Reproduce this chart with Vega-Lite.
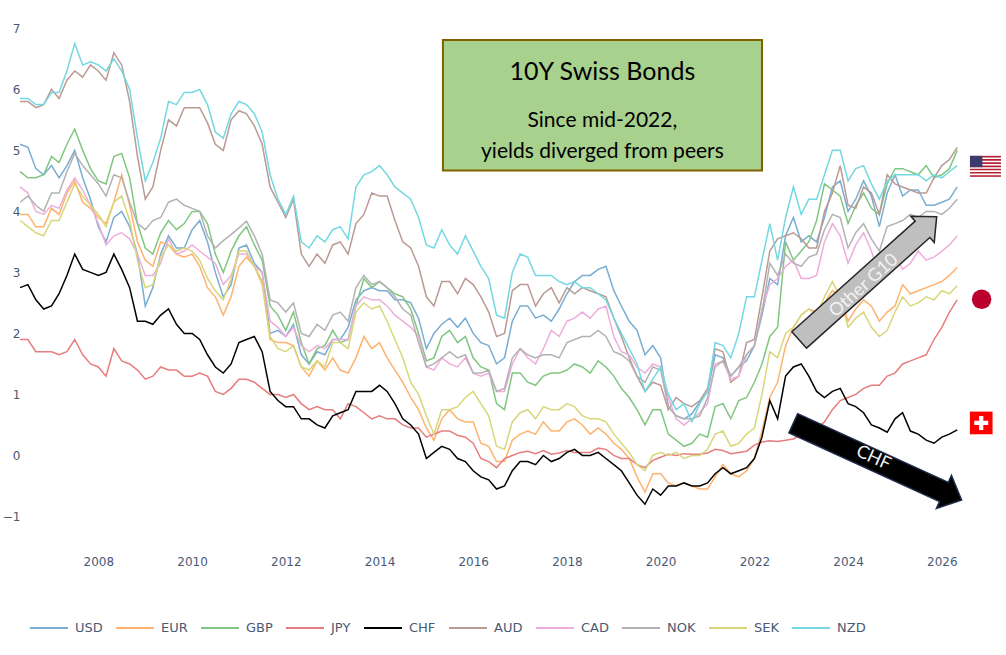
{
  "$schema": "https://vega.github.io/schema/vega-lite/v6.json",
  "width": 936,
  "height": 537,
  "autosize": {"type": "none"},
  "padding": {"left": 22, "top": 10, "right": 48, "bottom": 108},
  "background": "white",
  "config": {"view": {"stroke": null}},
  "resolve": {"scale": {"x": "shared", "y": "shared"}},
  "layer": [
    {
      "data": {"values": [
        {"d":"2006-05","USD":5.1,"EUR":3.95,"GBP":4.65,"JPY":1.9,"CHF":2.75,"AUD":5.8,"CAD":4.4,"NOK":4.15,"SEK":3.85,"NZD":5.85},
        {"d":"2006-07","USD":5.05,"EUR":3.95,"GBP":4.55,"JPY":1.9,"CHF":2.8,"AUD":5.8,"CAD":4.3,"NOK":4.25,"SEK":3.75,"NZD":5.85},
        {"d":"2006-09","USD":4.7,"EUR":3.75,"GBP":4.55,"JPY":1.7,"CHF":2.55,"AUD":5.7,"CAD":4.0,"NOK":4.1,"SEK":3.65,"NZD":5.75},
        {"d":"2006-11","USD":4.6,"EUR":3.75,"GBP":4.6,"JPY":1.7,"CHF":2.4,"AUD":5.75,"CAD":3.95,"NOK":4.0,"SEK":3.6,"NZD":5.75},
        {"d":"2007-01","USD":4.75,"EUR":4.05,"GBP":4.9,"JPY":1.7,"CHF":2.45,"AUD":6.0,"CAD":4.1,"NOK":4.3,"SEK":3.85,"NZD":5.95},
        {"d":"2007-03","USD":4.55,"EUR":3.95,"GBP":4.8,"JPY":1.65,"CHF":2.65,"AUD":5.85,"CAD":4.05,"NOK":4.3,"SEK":3.85,"NZD":5.95},
        {"d":"2007-05","USD":4.75,"EUR":4.3,"GBP":5.1,"JPY":1.7,"CHF":2.95,"AUD":6.15,"CAD":4.35,"NOK":4.65,"SEK":4.15,"NZD":6.3},
        {"d":"2007-07","USD":5.0,"EUR":4.5,"GBP":5.35,"JPY":1.9,"CHF":3.3,"AUD":6.3,"CAD":4.55,"NOK":4.95,"SEK":4.45,"NZD":6.75},
        {"d":"2007-09","USD":4.55,"EUR":4.15,"GBP":5.0,"JPY":1.65,"CHF":3.05,"AUD":6.2,"CAD":4.35,"NOK":4.75,"SEK":4.25,"NZD":6.4},
        {"d":"2007-11","USD":4.2,"EUR":4.05,"GBP":4.7,"JPY":1.5,"CHF":3.0,"AUD":6.4,"CAD":4.1,"NOK":4.6,"SEK":4.1,"NZD":6.45},
        {"d":"2008-01","USD":3.75,"EUR":3.9,"GBP":4.5,"JPY":1.45,"CHF":2.95,"AUD":6.3,"CAD":3.8,"NOK":4.45,"SEK":3.95,"NZD":6.4},
        {"d":"2008-03","USD":3.5,"EUR":3.8,"GBP":4.45,"JPY":1.3,"CHF":3.0,"AUD":6.15,"CAD":3.45,"NOK":4.25,"SEK":3.75,"NZD":6.3},
        {"d":"2008-05","USD":3.9,"EUR":4.15,"GBP":4.9,"JPY":1.75,"CHF":3.3,"AUD":6.6,"CAD":3.6,"NOK":4.6,"SEK":4.15,"NZD":6.5},
        {"d":"2008-07","USD":4.0,"EUR":4.6,"GBP":4.95,"JPY":1.55,"CHF":3.05,"AUD":6.4,"CAD":3.65,"NOK":4.55,"SEK":4.25,"NZD":6.3},
        {"d":"2008-09","USD":3.75,"EUR":4.1,"GBP":4.55,"JPY":1.5,"CHF":2.75,"AUD":5.8,"CAD":3.55,"NOK":4.15,"SEK":3.85,"NZD":6.0},
        {"d":"2008-11","USD":3.3,"EUR":3.5,"GBP":3.8,"JPY":1.4,"CHF":2.2,"AUD":4.9,"CAD":3.3,"NOK":3.8,"SEK":3.2,"NZD":5.2},
        {"d":"2009-01","USD":2.45,"EUR":3.2,"GBP":3.4,"JPY":1.25,"CHF":2.2,"AUD":4.2,"CAD":2.95,"NOK":3.7,"SEK":2.75,"NZD":4.5},
        {"d":"2009-03","USD":2.75,"EUR":3.1,"GBP":3.3,"JPY":1.3,"CHF":2.15,"AUD":4.4,"CAD":2.95,"NOK":3.85,"SEK":2.8,"NZD":4.8},
        {"d":"2009-05","USD":3.3,"EUR":3.5,"GBP":3.65,"JPY":1.45,"CHF":2.3,"AUD":5.0,"CAD":3.15,"NOK":3.9,"SEK":3.25,"NZD":5.2},
        {"d":"2009-07","USD":3.6,"EUR":3.45,"GBP":3.85,"JPY":1.4,"CHF":2.4,"AUD":5.5,"CAD":3.55,"NOK":4.15,"SEK":3.45,"NZD":5.8},
        {"d":"2009-09","USD":3.4,"EUR":3.3,"GBP":3.7,"JPY":1.4,"CHF":2.15,"AUD":5.4,"CAD":3.3,"NOK":4.2,"SEK":3.35,"NZD":5.75},
        {"d":"2009-11","USD":3.4,"EUR":3.25,"GBP":3.8,"JPY":1.3,"CHF":2.0,"AUD":5.7,"CAD":3.35,"NOK":4.1,"SEK":3.4,"NZD":5.95},
        {"d":"2010-01","USD":3.7,"EUR":3.3,"GBP":4.0,"JPY":1.3,"CHF":2.0,"AUD":5.7,"CAD":3.45,"NOK":4.05,"SEK":3.35,"NZD":5.95},
        {"d":"2010-03","USD":3.85,"EUR":3.1,"GBP":4.0,"JPY":1.35,"CHF":1.9,"AUD":5.7,"CAD":3.35,"NOK":4.0,"SEK":3.2,"NZD":6.0},
        {"d":"2010-05","USD":3.5,"EUR":2.75,"GBP":3.8,"JPY":1.3,"CHF":1.65,"AUD":5.45,"CAD":3.25,"NOK":3.6,"SEK":2.9,"NZD":5.75},
        {"d":"2010-07","USD":3.0,"EUR":2.6,"GBP":3.3,"JPY":1.05,"CHF":1.45,"AUD":5.1,"CAD":3.15,"NOK":3.4,"SEK":2.7,"NZD":5.3},
        {"d":"2010-09","USD":2.6,"EUR":2.3,"GBP":3.0,"JPY":1.0,"CHF":1.35,"AUD":5.0,"CAD":2.8,"NOK":3.52,"SEK":2.55,"NZD":5.2},
        {"d":"2010-11","USD":2.8,"EUR":2.6,"GBP":3.35,"JPY":1.1,"CHF":1.5,"AUD":5.5,"CAD":2.95,"NOK":3.62,"SEK":2.9,"NZD":5.6},
        {"d":"2011-01","USD":3.4,"EUR":3.1,"GBP":3.6,"JPY":1.25,"CHF":1.85,"AUD":5.65,"CAD":3.3,"NOK":3.73,"SEK":3.35,"NZD":5.8},
        {"d":"2011-03","USD":3.45,"EUR":3.25,"GBP":3.75,"JPY":1.25,"CHF":1.9,"AUD":5.6,"CAD":3.3,"NOK":3.84,"SEK":3.35,"NZD":5.75},
        {"d":"2011-05","USD":3.15,"EUR":3.1,"GBP":3.45,"JPY":1.2,"CHF":1.95,"AUD":5.4,"CAD":3.1,"NOK":3.6,"SEK":3.1,"NZD":5.6},
        {"d":"2011-07","USD":3.0,"EUR":2.85,"GBP":3.2,"JPY":1.1,"CHF":1.7,"AUD":5.1,"CAD":3.0,"NOK":3.3,"SEK":2.8,"NZD":5.3},
        {"d":"2011-09","USD":2.0,"EUR":1.9,"GBP":2.45,"JPY":1.0,"CHF":1.05,"AUD":4.4,"CAD":2.2,"NOK":2.55,"SEK":1.95,"NZD":4.6},
        {"d":"2011-11","USD":2.05,"EUR":1.85,"GBP":2.3,"JPY":1.0,"CHF":0.9,"AUD":4.15,"CAD":2.1,"NOK":2.5,"SEK":1.75,"NZD":4.2},
        {"d":"2012-01","USD":1.95,"EUR":1.85,"GBP":2.05,"JPY":0.95,"CHF":0.8,"AUD":3.9,"CAD":1.95,"NOK":2.35,"SEK":1.7,"NZD":3.95},
        {"d":"2012-03","USD":2.15,"EUR":1.8,"GBP":2.35,"JPY":1.0,"CHF":0.8,"AUD":4.2,"CAD":2.1,"NOK":2.5,"SEK":1.8,"NZD":4.25},
        {"d":"2012-05","USD":1.65,"EUR":1.45,"GBP":1.85,"JPY":0.85,"CHF":0.6,"AUD":3.3,"CAD":1.8,"NOK":2.0,"SEK":1.45,"NZD":3.5},
        {"d":"2012-07","USD":1.5,"EUR":1.3,"GBP":1.5,"JPY":0.75,"CHF":0.6,"AUD":3.1,"CAD":1.7,"NOK":1.95,"SEK":1.4,"NZD":3.4},
        {"d":"2012-09","USD":1.7,"EUR":1.55,"GBP":1.75,"JPY":0.8,"CHF":0.5,"AUD":3.3,"CAD":1.8,"NOK":2.15,"SEK":1.55,"NZD":3.6},
        {"d":"2012-11","USD":1.65,"EUR":1.4,"GBP":1.8,"JPY":0.75,"CHF":0.45,"AUD":3.15,"CAD":1.75,"NOK":2.05,"SEK":1.45,"NZD":3.5},
        {"d":"2013-01","USD":1.9,"EUR":1.6,"GBP":2.05,"JPY":0.75,"CHF":0.65,"AUD":3.45,"CAD":1.9,"NOK":2.3,"SEK":1.85,"NZD":3.7},
        {"d":"2013-03","USD":1.9,"EUR":1.4,"GBP":1.85,"JPY":0.6,"CHF":0.7,"AUD":3.5,"CAD":1.9,"NOK":2.35,"SEK":1.85,"NZD":3.75},
        {"d":"2013-05","USD":2.1,"EUR":1.35,"GBP":1.9,"JPY":0.85,"CHF":0.75,"AUD":3.3,"CAD":1.9,"NOK":2.2,"SEK":1.75,"NZD":3.55},
        {"d":"2013-07","USD":2.55,"EUR":1.6,"GBP":2.45,"JPY":0.8,"CHF":1.05,"AUD":3.8,"CAD":2.45,"NOK":2.75,"SEK":2.35,"NZD":4.4},
        {"d":"2013-09","USD":2.7,"EUR":1.95,"GBP":2.9,"JPY":0.7,"CHF":1.05,"AUD":3.95,"CAD":2.6,"NOK":2.95,"SEK":2.5,"NZD":4.6},
        {"d":"2013-11","USD":2.75,"EUR":1.75,"GBP":2.75,"JPY":0.6,"CHF":1.05,"AUD":4.3,"CAD":2.55,"NOK":2.8,"SEK":2.4,"NZD":4.65},
        {"d":"2014-01","USD":2.7,"EUR":1.85,"GBP":2.85,"JPY":0.65,"CHF":1.15,"AUD":4.25,"CAD":2.55,"NOK":2.85,"SEK":2.45,"NZD":4.75},
        {"d":"2014-03","USD":2.7,"EUR":1.6,"GBP":2.75,"JPY":0.6,"CHF":1.05,"AUD":4.25,"CAD":2.45,"NOK":2.75,"SEK":2.2,"NZD":4.6},
        {"d":"2014-05","USD":2.55,"EUR":1.4,"GBP":2.65,"JPY":0.6,"CHF":0.85,"AUD":3.85,"CAD":2.3,"NOK":2.6,"SEK":1.9,"NZD":4.4},
        {"d":"2014-07","USD":2.55,"EUR":1.2,"GBP":2.6,"JPY":0.5,"CHF":0.6,"AUD":3.5,"CAD":2.2,"NOK":2.4,"SEK":1.6,"NZD":4.3},
        {"d":"2014-09","USD":2.5,"EUR":0.95,"GBP":2.4,"JPY":0.45,"CHF":0.5,"AUD":3.4,"CAD":2.1,"NOK":2.3,"SEK":1.2,"NZD":4.2},
        {"d":"2014-11","USD":2.25,"EUR":0.75,"GBP":2.0,"JPY":0.45,"CHF":0.35,"AUD":3.1,"CAD":1.95,"NOK":1.85,"SEK":1.0,"NZD":3.9},
        {"d":"2015-01","USD":1.75,"EUR":0.45,"GBP":1.55,"JPY":0.3,"CHF":-0.05,"AUD":2.6,"CAD":1.45,"NOK":1.45,"SEK":0.65,"NZD":3.45},
        {"d":"2015-03","USD":2.0,"EUR":0.25,"GBP":1.6,"JPY":0.35,"CHF":0.05,"AUD":2.45,"CAD":1.4,"NOK":1.5,"SEK":0.35,"NZD":3.4},
        {"d":"2015-05","USD":2.15,"EUR":0.6,"GBP":1.95,"JPY":0.4,"CHF":0.15,"AUD":2.85,"CAD":1.6,"NOK":1.6,"SEK":0.75,"NZD":3.7},
        {"d":"2015-07","USD":2.25,"EUR":0.75,"GBP":2.05,"JPY":0.4,"CHF":0.1,"AUD":2.85,"CAD":1.5,"NOK":1.7,"SEK":0.75,"NZD":3.45},
        {"d":"2015-09","USD":2.1,"EUR":0.6,"GBP":1.85,"JPY":0.33,"CHF":-0.05,"AUD":2.65,"CAD":1.45,"NOK":1.6,"SEK":0.8,"NZD":3.3},
        {"d":"2015-11","USD":2.25,"EUR":0.55,"GBP":1.95,"JPY":0.3,"CHF":-0.1,"AUD":2.9,"CAD":1.6,"NOK":1.65,"SEK":0.95,"NZD":3.6},
        {"d":"2016-01","USD":2.0,"EUR":0.55,"GBP":1.6,"JPY":0.2,"CHF":-0.25,"AUD":2.8,"CAD":1.35,"NOK":1.35,"SEK":1.05,"NZD":3.35},
        {"d":"2016-03","USD":1.85,"EUR":0.2,"GBP":1.45,"JPY":-0.05,"CHF":-0.35,"AUD":2.6,"CAD":1.3,"NOK":1.35,"SEK":0.85,"NZD":3.1},
        {"d":"2016-05","USD":1.8,"EUR":0.15,"GBP":1.4,"JPY":-0.1,"CHF":-0.4,"AUD":2.35,"CAD":1.35,"NOK":1.4,"SEK":0.65,"NZD":2.9},
        {"d":"2016-07","USD":1.5,"EUR":-0.1,"GBP":0.85,"JPY":-0.2,"CHF":-0.55,"AUD":1.95,"CAD":1.05,"NOK":1.05,"SEK":0.15,"NZD":2.3},
        {"d":"2016-09","USD":1.6,"EUR":-0.1,"GBP":0.75,"JPY":-0.05,"CHF":-0.5,"AUD":2.0,"CAD":1.05,"NOK":1.1,"SEK":0.1,"NZD":2.25},
        {"d":"2016-11","USD":2.2,"EUR":0.25,"GBP":1.35,"JPY":0.0,"CHF":-0.25,"AUD":2.7,"CAD":1.5,"NOK":1.6,"SEK":0.55,"NZD":3.0},
        {"d":"2017-01","USD":2.45,"EUR":0.35,"GBP":1.35,"JPY":0.05,"CHF":-0.1,"AUD":2.8,"CAD":1.75,"NOK":1.75,"SEK":0.7,"NZD":3.3},
        {"d":"2017-03","USD":2.45,"EUR":0.4,"GBP":1.2,"JPY":0.07,"CHF":-0.1,"AUD":2.8,"CAD":1.6,"NOK":1.65,"SEK":0.75,"NZD":3.25},
        {"d":"2017-05","USD":2.25,"EUR":0.35,"GBP":1.15,"JPY":0.03,"CHF":-0.15,"AUD":2.45,"CAD":1.5,"NOK":1.6,"SEK":0.6,"NZD":2.95},
        {"d":"2017-07","USD":2.3,"EUR":0.55,"GBP":1.3,"JPY":0.08,"CHF":0.0,"AUD":2.65,"CAD":1.75,"NOK":1.65,"SEK":0.8,"NZD":2.95},
        {"d":"2017-09","USD":2.2,"EUR":0.4,"GBP":1.35,"JPY":0.02,"CHF":-0.1,"AUD":2.75,"CAD":2.05,"NOK":1.65,"SEK":0.75,"NZD":2.95},
        {"d":"2017-11","USD":2.4,"EUR":0.4,"GBP":1.35,"JPY":0.04,"CHF":-0.05,"AUD":2.5,"CAD":1.95,"NOK":1.6,"SEK":0.75,"NZD":2.85},
        {"d":"2018-01","USD":2.65,"EUR":0.55,"GBP":1.4,"JPY":0.08,"CHF":0.05,"AUD":2.75,"CAD":2.2,"NOK":1.85,"SEK":0.85,"NZD":2.8},
        {"d":"2018-03","USD":2.85,"EUR":0.6,"GBP":1.5,"JPY":0.05,"CHF":0.1,"AUD":2.65,"CAD":2.25,"NOK":1.9,"SEK":0.8,"NZD":2.85},
        {"d":"2018-05","USD":2.95,"EUR":0.5,"GBP":1.45,"JPY":0.05,"CHF":0.0,"AUD":2.75,"CAD":2.35,"NOK":1.95,"SEK":0.65,"NZD":2.75},
        {"d":"2018-07","USD":2.95,"EUR":0.35,"GBP":1.35,"JPY":0.05,"CHF":0.0,"AUD":2.7,"CAD":2.25,"NOK":1.95,"SEK":0.6,"NZD":2.75},
        {"d":"2018-09","USD":3.05,"EUR":0.45,"GBP":1.55,"JPY":0.12,"CHF":0.05,"AUD":2.65,"CAD":2.4,"NOK":2.05,"SEK":0.6,"NZD":2.65},
        {"d":"2018-11","USD":3.1,"EUR":0.35,"GBP":1.45,"JPY":0.1,"CHF":-0.05,"AUD":2.6,"CAD":2.45,"NOK":1.95,"SEK":0.55,"NZD":2.55},
        {"d":"2019-01","USD":2.7,"EUR":0.2,"GBP":1.3,"JPY":0.0,"CHF":-0.15,"AUD":2.25,"CAD":1.95,"NOK":1.7,"SEK":0.35,"NZD":2.25},
        {"d":"2019-03","USD":2.45,"EUR":0.1,"GBP":1.1,"JPY":-0.05,"CHF":-0.25,"AUD":1.95,"CAD":1.7,"NOK":1.65,"SEK":0.2,"NZD":2.0},
        {"d":"2019-05","USD":2.2,"EUR":-0.05,"GBP":0.95,"JPY":-0.05,"CHF":-0.45,"AUD":1.6,"CAD":1.65,"NOK":1.55,"SEK":0.05,"NZD":1.75},
        {"d":"2019-07","USD":2.05,"EUR":-0.35,"GBP":0.75,"JPY":-0.15,"CHF":-0.65,"AUD":1.3,"CAD":1.45,"NOK":1.3,"SEK":-0.15,"NZD":1.5},
        {"d":"2019-09","USD":1.65,"EUR":-0.6,"GBP":0.5,"JPY":-0.2,"CHF":-0.8,"AUD":1.05,"CAD":1.35,"NOK":1.2,"SEK":-0.25,"NZD":1.05},
        {"d":"2019-11","USD":1.8,"EUR":-0.3,"GBP":0.75,"JPY":-0.08,"CHF":-0.55,"AUD":1.2,"CAD":1.5,"NOK":1.45,"SEK":0.0,"NZD":1.25},
        {"d":"2020-01","USD":1.6,"EUR":-0.3,"GBP":0.75,"JPY":-0.03,"CHF":-0.65,"AUD":1.15,"CAD":1.45,"NOK":1.4,"SEK":0.05,"NZD":1.45},
        {"d":"2020-03","USD":0.8,"EUR":-0.45,"GBP":0.35,"JPY":0.02,"CHF":-0.5,"AUD":0.75,"CAD":0.95,"NOK":0.8,"SEK":0.0,"NZD":1.0},
        {"d":"2020-05","USD":0.65,"EUR":-0.5,"GBP":0.25,"JPY":0.0,"CHF":-0.5,"AUD":0.95,"CAD":0.6,"NOK":0.65,"SEK":0.05,"NZD":0.75},
        {"d":"2020-07","USD":0.6,"EUR":-0.45,"GBP":0.15,"JPY":0.03,"CHF":-0.45,"AUD":0.85,"CAD":0.5,"NOK":0.6,"SEK":-0.05,"NZD":0.85},
        {"d":"2020-09","USD":0.68,"EUR":-0.5,"GBP":0.2,"JPY":0.02,"CHF":-0.5,"AUD":0.8,"CAD":0.6,"NOK":0.6,"SEK":0.0,"NZD":0.55},
        {"d":"2020-11","USD":0.88,"EUR":-0.55,"GBP":0.35,"JPY":0.02,"CHF":-0.5,"AUD":0.9,"CAD":0.7,"NOK":0.65,"SEK":0.0,"NZD":0.85},
        {"d":"2021-01","USD":1.05,"EUR":-0.55,"GBP":0.3,"JPY":0.04,"CHF":-0.45,"AUD":1.1,"CAD":0.85,"NOK":0.95,"SEK":0.1,"NZD":1.05},
        {"d":"2021-03","USD":1.65,"EUR":-0.35,"GBP":0.8,"JPY":0.1,"CHF":-0.3,"AUD":1.75,"CAD":1.5,"NOK":1.45,"SEK":0.35,"NZD":1.85},
        {"d":"2021-05","USD":1.6,"EUR":-0.15,"GBP":0.85,"JPY":0.08,"CHF":-0.2,"AUD":1.7,"CAD":1.55,"NOK":1.55,"SEK":0.4,"NZD":1.8},
        {"d":"2021-07","USD":1.3,"EUR":-0.3,"GBP":0.6,"JPY":0.03,"CHF":-0.3,"AUD":1.2,"CAD":1.25,"NOK":1.3,"SEK":0.15,"NZD":1.6},
        {"d":"2021-09","USD":1.45,"EUR":-0.35,"GBP":0.9,"JPY":0.05,"CHF":-0.25,"AUD":1.3,"CAD":1.3,"NOK":1.45,"SEK":0.2,"NZD":2.0},
        {"d":"2021-11","USD":1.55,"EUR":-0.25,"GBP":0.95,"JPY":0.07,"CHF":-0.2,"AUD":1.85,"CAD":1.65,"NOK":1.65,"SEK":0.35,"NZD":2.6},
        {"d":"2022-01","USD":1.8,"EUR":-0.05,"GBP":1.2,"JPY":0.17,"CHF":-0.05,"AUD":1.9,"CAD":1.8,"NOK":1.8,"SEK":0.45,"NZD":2.6},
        {"d":"2022-03","USD":2.3,"EUR":0.4,"GBP":1.5,"JPY":0.22,"CHF":0.3,"AUD":2.6,"CAD":2.4,"NOK":2.35,"SEK":1.0,"NZD":3.2},
        {"d":"2022-05","USD":2.9,"EUR":0.95,"GBP":1.95,"JPY":0.24,"CHF":0.9,"AUD":3.35,"CAD":2.8,"NOK":3.15,"SEK":1.7,"NZD":3.8},
        {"d":"2022-07","USD":2.8,"EUR":1.2,"GBP":2.1,"JPY":0.23,"CHF":0.6,"AUD":3.55,"CAD":2.9,"NOK":2.95,"SEK":1.6,"NZD":3.2},
        {"d":"2022-09","USD":3.6,"EUR":1.8,"GBP":3.5,"JPY":0.25,"CHF":1.3,"AUD":3.6,"CAD":3.1,"NOK":3.3,"SEK":2.0,"NZD":3.9},
        {"d":"2022-11","USD":3.9,"EUR":2.1,"GBP":3.2,"JPY":0.27,"CHF":1.45,"AUD":3.65,"CAD":3.2,"NOK":3.15,"SEK":2.1,"NZD":4.4},
        {"d":"2023-01","USD":3.5,"EUR":2.3,"GBP":3.35,"JPY":0.35,"CHF":1.5,"AUD":3.55,"CAD":2.9,"NOK":3.1,"SEK":2.3,"NZD":3.95},
        {"d":"2023-03","USD":3.6,"EUR":2.4,"GBP":3.5,"JPY":0.38,"CHF":1.3,"AUD":3.4,"CAD":2.9,"NOK":3.25,"SEK":2.4,"NZD":4.2},
        {"d":"2023-05","USD":3.5,"EUR":2.35,"GBP":3.85,"JPY":0.45,"CHF":1.05,"AUD":3.4,"CAD":2.95,"NOK":3.3,"SEK":2.3,"NZD":4.2},
        {"d":"2023-07","USD":3.9,"EUR":2.5,"GBP":4.45,"JPY":0.55,"CHF":0.95,"AUD":4.0,"CAD":3.5,"NOK":3.7,"SEK":2.6,"NZD":4.6},
        {"d":"2023-09","USD":4.4,"EUR":2.7,"GBP":4.35,"JPY":0.75,"CHF":1.05,"AUD":4.3,"CAD":3.8,"NOK":3.95,"SEK":2.85,"NZD":5.0},
        {"d":"2023-11","USD":4.5,"EUR":2.6,"GBP":4.25,"JPY":0.9,"CHF":1.1,"AUD":4.75,"CAD":3.6,"NOK":3.9,"SEK":2.6,"NZD":5.0},
        {"d":"2024-01","USD":4.0,"EUR":2.2,"GBP":3.8,"JPY":0.95,"CHF":0.85,"AUD":4.1,"CAD":3.15,"NOK":3.4,"SEK":2.1,"NZD":4.5},
        {"d":"2024-03","USD":4.2,"EUR":2.4,"GBP":4.1,"JPY":1.0,"CHF":0.8,"AUD":4.05,"CAD":3.45,"NOK":3.65,"SEK":2.25,"NZD":4.7},
        {"d":"2024-05","USD":4.5,"EUR":2.55,"GBP":4.3,"JPY":1.1,"CHF":0.7,"AUD":4.4,"CAD":3.65,"NOK":3.8,"SEK":2.35,"NZD":4.75},
        {"d":"2024-07","USD":4.25,"EUR":2.45,"GBP":4.05,"JPY":1.15,"CHF":0.5,"AUD":4.3,"CAD":3.35,"NOK":3.55,"SEK":2.1,"NZD":4.45},
        {"d":"2024-09","USD":3.75,"EUR":2.2,"GBP":3.95,"JPY":1.15,"CHF":0.45,"AUD":3.95,"CAD":2.95,"NOK":3.35,"SEK":1.95,"NZD":4.2},
        {"d":"2024-11","USD":4.3,"EUR":2.35,"GBP":4.45,"JPY":1.3,"CHF":0.38,"AUD":4.6,"CAD":3.25,"NOK":3.75,"SEK":2.05,"NZD":4.5},
        {"d":"2025-01","USD":4.6,"EUR":2.45,"GBP":4.7,"JPY":1.35,"CHF":0.6,"AUD":4.45,"CAD":3.3,"NOK":3.8,"SEK":2.35,"NZD":4.6},
        {"d":"2025-03","USD":4.25,"EUR":2.8,"GBP":4.7,"JPY":1.5,"CHF":0.7,"AUD":4.4,"CAD":3.05,"NOK":3.85,"SEK":2.6,"NZD":4.6},
        {"d":"2025-05","USD":4.35,"EUR":2.65,"GBP":4.65,"JPY":1.55,"CHF":0.4,"AUD":4.35,"CAD":3.15,"NOK":3.95,"SEK":2.45,"NZD":4.6},
        {"d":"2025-07","USD":4.35,"EUR":2.7,"GBP":4.6,"JPY":1.6,"CHF":0.35,"AUD":4.3,"CAD":3.35,"NOK":3.9,"SEK":2.5,"NZD":4.6},
        {"d":"2025-09","USD":4.1,"EUR":2.75,"GBP":4.75,"JPY":1.65,"CHF":0.25,"AUD":4.3,"CAD":3.2,"NOK":4.0,"SEK":2.6,"NZD":4.5},
        {"d":"2025-11","USD":4.1,"EUR":2.8,"GBP":4.55,"JPY":1.9,"CHF":0.2,"AUD":4.55,"CAD":3.25,"NOK":4.0,"SEK":2.55,"NZD":4.6},
        {"d":"2026-01","USD":4.15,"EUR":2.85,"GBP":4.6,"JPY":2.1,"CHF":0.3,"AUD":4.75,"CAD":3.35,"NOK":3.95,"SEK":2.7,"NZD":4.55},
        {"d":"2026-03","USD":4.2,"EUR":2.95,"GBP":4.7,"JPY":2.35,"CHF":0.35,"AUD":4.85,"CAD":3.45,"NOK":4.05,"SEK":2.65,"NZD":4.65},
        {"d":"2026-05","USD":4.4,"EUR":3.08,"GBP":5.0,"JPY":2.55,"CHF":0.42,"AUD":5.05,"CAD":3.6,"NOK":4.2,"SEK":2.78,"NZD":4.75}
      ]},
      "transform": [
        {"fold": ["USD", "EUR", "GBP", "JPY", "CHF", "AUD", "CAD", "NOK", "SEK", "NZD"], "as": ["ccy", "yield"]}
      ],
      "mark": {"type": "line", "strokeWidth": 1.5},
      "encoding": {
        "x": {
          "field": "d", "type": "temporal",
          "scale": {"domain": [{"year": 2006, "month": 5, "date": 16}, {"year": 2026, "month": 5, "date": 7}], "nice": false},
          "axis": {
            "title": null, "domain": false, "ticks": false, "grid": false,
            "format": "%Y", "labelPadding": 9,
            "values": [{"year": 2008}, {"year": 2010}, {"year": 2012}, {"year": 2014}, {"year": 2016}, {"year": 2018}, {"year": 2020}, {"year": 2022}, {"year": 2024}, {"year": 2026}],
            "labelFont": "DejaVu Sans", "labelFontSize": 12, "labelColor": "#4a5a75"
          }
        },
        "y": {
          "field": "yield", "type": "quantitative",
          "scale": {"domain": [-1.5, 7.3], "nice": false, "zero": false},
          "axis": {
            "title": null, "domain": false, "ticks": false, "grid": false,
            "values": [-1, 0, 1, 2, 3, 4, 5, 6, 7], "format": "d", "labelPadding": 2,
            "labelFont": "DejaVu Sans", "labelFontSize": 12, "labelColor": "#4a5a75"
          }
        },
        "color": {
          "field": "ccy", "type": "nominal",
          "scale": {
            "domain": ["USD", "EUR", "GBP", "JPY", "CHF", "AUD", "CAD", "NOK", "SEK", "NZD"],
            "range": ["#79add2", "#ffb26e", "#80c680", "#e67d7e", "#000000", "#ba9a93", "#eeadda", "#b2b2b2", "#d7d77a", "#74d8e2"]
          },
          "legend": {
            "title": null, "orient": "none", "legendX": 7, "legendY": 598,
            "direction": "horizontal", "columns": 10, "padding": 0,
            "symbolType": "stroke", "symbolSize": 1444, "symbolStrokeWidth": 2,
            "labelFont": "DejaVu Sans", "labelFontSize": 13, "labelColor": "#4a5a75",
            "labelOffset": 6, "columnPadding": 9
          }
        }
      }
    },
    {
      "data": {"values": [{"x0": "2015-05-10", "x1": "2022-03-01", "y0": 6.81, "y1": 4.67}]},
      "mark": {"type": "rect", "fill": "#a9d18e", "stroke": "#7f6000", "strokeWidth": 2},
      "encoding": {
        "x": {"field": "x0", "type": "temporal", "scale": {"domain": [{"year": 2006, "month": 5, "date": 16}, {"year": 2026, "month": 5, "date": 7}], "nice": false}},
        "x2": {"field": "x1"},
        "y": {"field": "y0", "type": "quantitative", "scale": {"domain": [-1.5, 7.3], "nice": false, "zero": false}},
        "y2": {"field": "y1"}
      }
    },
    {
      "data": {"values": [{"x": "2018-10-04", "y": 6.156, "t": "10Y Swiss Bonds"}]},
      "mark": {"type": "text", "font": "Lato", "fontSize": 25, "color": "#000000", "align": "center", "baseline": "alphabetic"},
      "encoding": {
        "x": {"field": "x", "type": "temporal", "scale": {"domain": [{"year": 2006, "month": 5, "date": 16}, {"year": 2026, "month": 5, "date": 7}], "nice": false}},
        "y": {"field": "y", "type": "quantitative", "scale": {"domain": [-1.5, 7.3], "nice": false, "zero": false}},
        "text": {"field": "t"}
      }
    },
    {
      "data": {"values": [
        {"x": "2018-10-04", "y": 5.39, "t": "Since mid-2022,"},
        {"x": "2018-10-04", "y": 4.872, "t": "yields diverged from peers"}
      ]},
      "mark": {"type": "text", "font": "Lato", "fontSize": 21, "color": "#000000", "align": "center", "baseline": "alphabetic"},
      "encoding": {
        "x": {"field": "x", "type": "temporal", "scale": {"domain": [{"year": 2006, "month": 5, "date": 16}, {"year": 2026, "month": 5, "date": 7}], "nice": false}},
        "y": {"field": "y", "type": "quantitative", "scale": {"domain": [-1.5, 7.3], "nice": false, "zero": false}},
        "text": {"field": "t"}
      }
    },
    {
      "data": {"values": [{"x": "2024-06-04", "y": 2.903}]},
      "mark": {
        "type": "point", "filled": true, "opacity": 1,
        "shape": "M-1,-0.119L0.794,-0.119L0.794,-0.19L1,0L0.794,0.19L0.794,0.119L-1,0.119Z",
        "size": 34114, "angle": 318.1,
        "fill": "#bfbfbf", "stroke": "#262626", "strokeWidth": 1.5
      },
      "encoding": {
        "x": {"field": "x", "type": "temporal", "scale": {"domain": [{"year": 2006, "month": 5, "date": 16}, {"year": 2026, "month": 5, "date": 7}], "nice": false}},
        "y": {"field": "y", "type": "quantitative", "scale": {"domain": [-1.5, 7.3], "nice": false, "zero": false}}
      }
    },
    {
      "data": {"values": [{"x": "2024-08-17", "y": -0.101}]},
      "mark": {
        "type": "point", "filled": true, "opacity": 1,
        "shape": "M-1,-0.114L0.79,-0.114L0.79,-0.197L1,0L0.79,0.197L0.79,0.114L-1,0.114Z",
        "size": 34225, "angle": 24.5,
        "fill": "#000000", "stroke": "#1f2d4d", "strokeWidth": 1.5
      },
      "encoding": {
        "x": {"field": "x", "type": "temporal", "scale": {"domain": [{"year": 2006, "month": 5, "date": 16}, {"year": 2026, "month": 5, "date": 7}], "nice": false}},
        "y": {"field": "y", "type": "quantitative", "scale": {"domain": [-1.5, 7.3], "nice": false, "zero": false}}
      }
    },
    {
      "data": {"values": [
        {"x": "2024-05-04", "y": 2.779, "t": "Other G10", "a": 318.1},
        {"x": "2024-07-16", "y": -0.046, "t": "CHF", "a": 24.5}
      ]},
      "mark": {"type": "text", "font": "Lato", "fontSize": 18, "color": "#f2f2f2", "align": "center", "baseline": "middle"},
      "encoding": {
        "x": {"field": "x", "type": "temporal", "scale": {"domain": [{"year": 2006, "month": 5, "date": 16}, {"year": 2026, "month": 5, "date": 7}], "nice": false}},
        "y": {"field": "y", "type": "quantitative", "scale": {"domain": [-1.5, 7.3], "nice": false, "zero": false}},
        "text": {"field": "t"},
        "angle": {"field": "a", "type": "quantitative", "scale": null}
      }
    },
    {
      "data": {"values": [{"x": "2026-12-07", "y": 4.738}]},
      "layer": [
        {"mark": {"type": "point", "filled": true, "opacity": 1, "strokeWidth": 0, "size": 961, "fill": "#b22234",
          "shape": "M-1,-0.677L1,-0.677L1,0.677L-1,0.677Z"}},
        {"mark": {"type": "point", "filled": true, "opacity": 1, "strokeWidth": 0, "size": 961, "fill": "#ffffff",
          "shape": "M-1,-0.573L1,-0.573L1,-0.469L-1,-0.469Z M-1,-0.365L1,-0.365L1,-0.26L-1,-0.26Z M-1,-0.156L1,-0.156L1,-0.052L-1,-0.052Z M-1,0.052L1,0.052L1,0.156L-1,0.156Z M-1,0.26L1,0.26L1,0.365L-1,0.365Z M-1,0.469L1,0.469L1,0.573L-1,0.573Z"}},
        {"mark": {"type": "point", "filled": true, "opacity": 1, "strokeWidth": 0, "size": 961, "fill": "#3c3b6e",
          "shape": "M-1,-0.677L-0.2,-0.677L-0.2,0.052L-1,0.052Z"}}
      ],
      "encoding": {
        "x": {"field": "x", "type": "temporal", "scale": {"domain": [{"year": 2006, "month": 5, "date": 16}, {"year": 2026, "month": 5, "date": 7}], "nice": false}},
        "y": {"field": "y", "type": "quantitative", "scale": {"domain": [-1.5, 7.3], "nice": false, "zero": false}}
      }
    },
    {
      "data": {"values": [{"x": "2026-11-07", "y": 2.56}]},
      "mark": {"type": "point", "shape": "circle", "filled": true, "opacity": 1, "strokeWidth": 0, "size": 380, "fill": "#bc002d"},
      "encoding": {
        "x": {"field": "x", "type": "temporal", "scale": {"domain": [{"year": 2006, "month": 5, "date": 16}, {"year": 2026, "month": 5, "date": 7}], "nice": false}},
        "y": {"field": "y", "type": "quantitative", "scale": {"domain": [-1.5, 7.3], "nice": false, "zero": false}}
      }
    },
    {
      "data": {"values": [{"x": "2026-11-04", "y": 0.533}]},
      "layer": [
        {"mark": {"type": "point", "shape": "square", "filled": true, "opacity": 1, "strokeWidth": 0, "size": 515, "fill": "#ff0000"}},
        {"mark": {"type": "point", "filled": true, "opacity": 1, "strokeWidth": 0, "size": 196, "fill": "#ffffff",
          "shape": "M-1,-0.3L-0.3,-0.3L-0.3,-1L0.3,-1L0.3,-0.3L1,-0.3L1,0.3L0.3,0.3L0.3,1L-0.3,1L-0.3,0.3L-1,0.3Z"}}
      ],
      "encoding": {
        "x": {"field": "x", "type": "temporal", "scale": {"domain": [{"year": 2006, "month": 5, "date": 16}, {"year": 2026, "month": 5, "date": 7}], "nice": false}},
        "y": {"field": "y", "type": "quantitative", "scale": {"domain": [-1.5, 7.3], "nice": false, "zero": false}}
      }
    }
  ]
}
